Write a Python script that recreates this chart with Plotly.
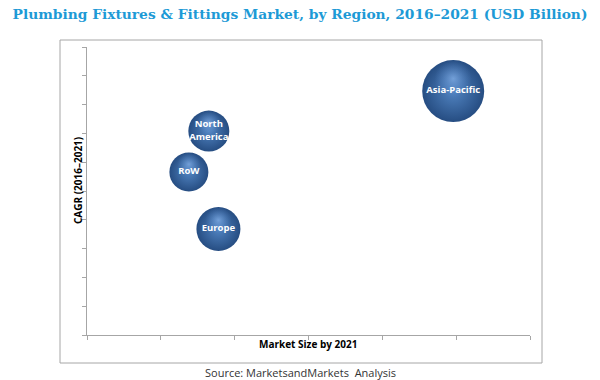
import plotly.graph_objects as go

# ---- data (axes carry no numeric labels) ----
regions = ["North America", "RoW", "Europe", "Asia-Pacific"]
region_labels = ["North<br>America", "RoW", "Europe", "Asia-Pacific"]
market_size_2021 = [1.65, 1.38, 1.78, 4.96]   # x position (relative units)
cagr_2016_2021 = [7.08, 5.66, 3.68, 8.47]     # y position (relative units)
bubble_size = [41, 39, 44, 62]                 # bubble diameter

x_range = [0, 6]
y_range = [0, 10]

# ---- layout geometry ----
W, H = 600, 380
ml, mr, mt, mb = 87, 70, 47, 45
pw = W - ml - mr
ph = H - mt - mb
px_per_y = ph / (y_range[1] - y_range[0])

fig = go.Figure()

# base sphere: dark rim, lighter centre
fig.add_trace(go.Scatter(
    x=market_size_2021, y=cagr_2016_2021, mode="markers",
    marker=dict(size=bubble_size, sizemode="diameter", opacity=1,
                color="#264d82",
                gradient=dict(type="radial", color="#5184c2"),
                line=dict(width=0)),
    hoverinfo="skip", showlegend=False))

# highlight overlay (shifted upward, derived from bubble size)
hl_y = [y + (s * 0.2) / px_per_y for y, s in zip(cagr_2016_2021, bubble_size)]
hl_size = [s * 0.6 for s in bubble_size]
fig.add_trace(go.Scatter(
    x=market_size_2021, y=hl_y, mode="markers",
    marker=dict(size=hl_size, sizemode="diameter", opacity=1,
                color="rgba(85,135,200,0)",
                gradient=dict(type="radial", color="rgba(128,172,228,0.8)"),
                line=dict(width=0)),
    hoverinfo="skip", showlegend=False))

# labels
fig.add_trace(go.Scatter(
    x=market_size_2021, y=cagr_2016_2021, mode="text",
    text=["<b>%s</b>" % t for t in region_labels],
    textfont=dict(family="Open Sans, Liberation Sans, sans-serif", size=9.5, color="white"),
    textposition="middle center",
    hovertext=regions, hoverinfo="text", showlegend=False))

axis_common = dict(showgrid=False, zeroline=False, showticklabels=False,
                   showline=True, linecolor="#a6a6a6", linewidth=1,
                   ticks="outside", tickcolor="#a6a6a6", ticklen=4, fixedrange=True)

fig.update_xaxes(range=x_range, dtick=1, tick0=0, **axis_common)
fig.update_yaxes(range=y_range, dtick=1, tick0=0, **axis_common)

# outer frame in pixels -> paper
def px_to_paper_x(p):
    return (p - ml) / pw

def px_to_paper_y(p):
    return (H - mb - p) / ph

fig.add_shape(type="rect", xref="paper", yref="paper",
              x0=px_to_paper_x(60), x1=px_to_paper_x(542),
              y0=px_to_paper_y(363), y1=px_to_paper_y(40),
              line=dict(color="#a6a6a6", width=1), layer="below")

fig.update_layout(
    width=W, height=H,
    margin=dict(l=ml, r=mr, t=mt, b=mb),
    paper_bgcolor="white", plot_bgcolor="white",
    title=dict(text="<b>Plumbing Fixtures &amp; Fittings Market, by Region, 2016\u20132021 (USD Billion)</b>",
               font=dict(family="DejaVu Serif, serif", size=13.8, color="#1d9ad6"),
               x=0.5, xanchor="center", y=1 - 14 / H, yanchor="middle"),
    annotations=[
        dict(text="<b>Market Size by 2021</b>", xref="paper", yref="paper",
             x=px_to_paper_x(308), y=px_to_paper_y(344), showarrow=False,
             font=dict(family="Open Sans, Liberation Sans, sans-serif", size=10, color="#000"),
             xanchor="center", yanchor="middle"),
        dict(text="<b>CAGR (2016\u20132021)</b>", xref="paper", yref="paper",
             x=px_to_paper_x(78), y=px_to_paper_y(181), showarrow=False, textangle=-90,
             font=dict(family="Open Sans, Liberation Sans, sans-serif", size=10, color="#000"),
             xanchor="center", yanchor="middle"),
        dict(text="Source: MarketsandMarkets  Analysis", xref="paper", yref="paper",
             x=px_to_paper_x(300), y=px_to_paper_y(372), showarrow=False,
             font=dict(family="Open Sans, Liberation Sans, sans-serif", size=11, color="#333"),
             xanchor="center", yanchor="middle"),
    ],
)

fig.write_html("out.html", config={"displayModeBar": False},
               post_script="document.body.style.margin='0';")
